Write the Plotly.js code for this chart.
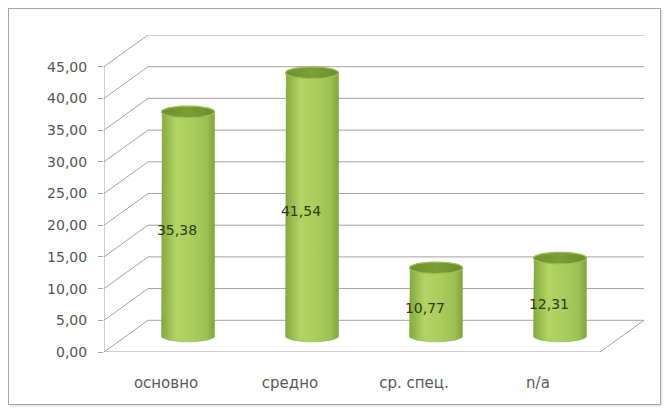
<!DOCTYPE html>
<html><head><meta charset="utf-8">
<script src="https://cdn.plot.ly/plotly-3.0.1.min.js"></script>
<style>
html,body{margin:0;padding:0;background:#fff;}
#wrap{position:relative;width:667px;height:410px;}
#chart{width:667px;height:410px;}
#frame{position:absolute;left:8px;top:8px;width:651px;height:395px;border:1px solid #a6a6a6;pointer-events:none;box-shadow:1px 1px 2px rgba(0,0,0,0.15);}
</style></head>
<body>
<div id="wrap"><div id="chart"></div><div id="frame"></div></div>
<script>
const categories = ['основно', 'средно', 'ср. спец.', 'n/a'];
const values = [35.38, 41.54, 10.77, 12.31];
const valueLabels = ['35,38', '41,54', '10,77', '12,31'];
const yTickVals = [0, 5, 10, 15, 20, 25, 30, 35, 40, 45];
const yTickLabels = ['0,00', '5,00', '10,00', '15,00', '20,00', '25,00', '30,00', '35,00', '40,00', '45,00'];

// pseudo-3D geometry (axis units)
const DX = 0.355, DY = 5;          // depth offset of the back wall
const R = 0.214, EY = 0.92;        // cylinder radius (x) and ellipse half-height (y)
const gridColor = '#a3a3a3';

const shapes = [];
function line(x0, y0, x1, y1, w) {
  shapes.push({type: 'line', xref: 'x', yref: 'y', x0, y0, x1, y1, layer: 'below',
    line: {color: gridColor, width: w || 1}});
}
const nCat = categories.length;
const xL = -0.5, xR = nCat - 0.5;
yTickVals.forEach(v => {
  line(xL + DX, v + DY, xR + DX, v + DY);   // back wall gridline
  line(xL, v, xL + DX, v + DY);             // side wall diagonal
});
line(xL, 0, xL, yTickVals[yTickVals.length - 1]); // front value axis
line(xL, 0, xR, 0);                                // front floor edge
line(xR, 0, xR + DX, DY);                          // right floor edge
for (let i = 1; i < nCat; i++) {
  shapes.push({type: 'line', xref: 'x', yref: 'y', x0: xL + i, x1: xL + i, y0: 0, y1: -0.9,
    layer: 'below', line: {color: gridColor, width: 1}});
}

const traces = [];
const N = 40;
values.forEach((v, i) => {
  const cx = i + DX / 2, base = DY / 2, top = v + DY / 2;
  const bx = [], by = [];
  bx.push(cx - R); by.push(base);
  bx.push(cx - R); by.push(top);
  for (let k = 0; k <= N; k++) { const t = Math.PI - Math.PI * k / N; bx.push(cx + R * Math.cos(t)); by.push(top + EY * Math.sin(t)); }
  bx.push(cx + R); by.push(base);
  for (let k = 0; k <= N; k++) { const t = -Math.PI * k / N; bx.push(cx + R * Math.cos(t)); by.push(base + EY * Math.sin(t)); }
  traces.push({x: bx, y: by, type: 'scatter', mode: 'lines', fill: 'toself', hoverinfo: 'skip',
    line: {color: 'rgba(120,150,50,0.6)', width: 0.6},
    fillgradient: {type: 'horizontal', colorscale: [[0, '#86a83c'], [0.28, '#b1d465'], [0.55, '#abce5e'], [0.85, '#9cc052'], [1, '#83a53a']]}});
  const ex = [], ey = [];
  for (let k = 0; k <= 2 * N; k++) { const t = 2 * Math.PI * k / (2 * N); ex.push(cx + R * Math.cos(t)); ey.push(top + EY * Math.sin(t)); }
  traces.push({x: ex, y: ey, type: 'scatter', mode: 'lines', fill: 'toself', hoverinfo: 'skip',
    line: {color: '#9cc052', width: 1.2},
    fillgradient: {type: 'horizontal', colorscale: [[0, '#6f902c'], [0.5, '#7c9e36'], [1, '#6b8c2a']]}});
});

traces.push({
  x: values.map((v, i) => i + DX / 4),
  y: values.map(v => v / 2 + DY / 4),
  text: valueLabels, type: 'scatter', mode: 'text', hoverinfo: 'skip',
  textfont: {family: 'DejaVu Sans', size: 14, color: '#2e3c12'}
});

const layout = {
  width: 667, height: 410,
  margin: {l: 104, r: 23, t: 35, b: 58},
  paper_bgcolor: '#fff', plot_bgcolor: '#fff',
  showlegend: false, hovermode: false,
  xaxis: {range: [xL, xR + DX], tickvals: categories.map((c, i) => i), ticktext: categories,
    showgrid: false, zeroline: false, showline: false, ticks: '', ticklabelstandoff: 20,
    tickfont: {family: 'DejaVu Sans', size: 15, color: '#595959'}, fixedrange: true},
  yaxis: {range: [0, 50], tickvals: yTickVals, ticktext: yTickLabels,
    showgrid: false, zeroline: false, showline: false, ticks: 'outside', ticklen: 5,
    tickcolor: gridColor, ticklabelstandoff: 8,
    tickfont: {family: 'DejaVu Sans', size: 14, color: '#555555'}, fixedrange: true},
  shapes: shapes
};
Plotly.newPlot('chart', traces, layout, {displayModeBar: false, staticPlot: true});
</script>
</body></html>
